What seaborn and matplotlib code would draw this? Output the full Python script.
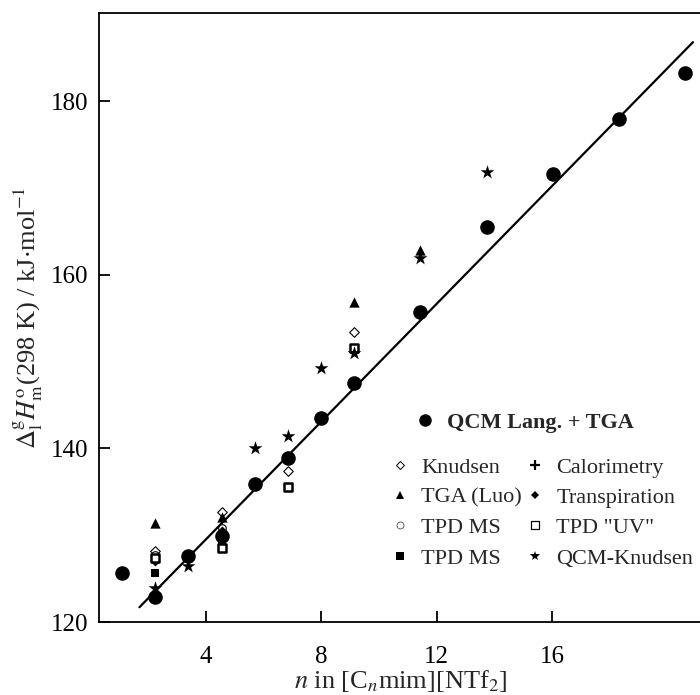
import numpy as np
import pandas as pd
import matplotlib
matplotlib.use("Agg")
import matplotlib.pyplot as plt
from matplotlib.lines import Line2D
import seaborn as sns

# ---- data (x) ----
qcm_x = [1.09, 2.23, 3.39, 4.55, 5.70, 6.84, 7.99, 9.13, 11.42, 13.75, 16.04, 18.34, 20.63]
qcm_y = [125.6, 122.9, 127.6, 129.9, 135.9, 138.9, 143.5, 147.5, 155.7, 165.5, 171.6, 178.0, 183.3]

knudsen_x = [2.23, 4.55, 6.84, 9.13]
knudsen_y = [128.2, 132.7, 137.4, 153.4]

tga_luo_x = [2.23, 4.55, 9.13, 11.42]
tga_luo_y = [131.4, 132.1, 156.9, 162.9]

tpd_ms_open_x = [2.23, 4.55]
tpd_ms_open_y = [127.7, 130.8]

tpd_ms_sq_x = [2.23, 4.55]
tpd_ms_sq_y = [125.6, 129.2]

transp_x = [2.23, 4.55]
transp_y = [127.0, 130.5]

tpd_uv_x = [2.23, 4.55, 6.84, 9.13]
tpd_uv_y = [127.4, 128.5, 135.5, 151.6]

qcm_kn_x = [2.23, 3.39, 5.70, 6.84, 7.99, 9.13, 11.42, 13.75]
qcm_kn_y = [123.9, 126.5, 140.0, 141.4, 149.3, 151.0, 161.9, 171.9]

fit_x = [1.69, 20.89]
fit_y = [121.7, 186.8]

x_ticks = [4, 8, 12, 16]
y_ticks = [120, 140, 160, 180]

sns.set_theme(style="ticks")
plt.rcParams['font.family'] = ['Liberation Serif', 'DejaVu Serif']
plt.rcParams['mathtext.fontset'] = 'stix'

fig = plt.figure(figsize=(7.0, 6.95), dpi=100)
ax = fig.add_axes([99/700, 1-622/695, (702-99)/700, (622-13)/695])

sns.lineplot(x=fit_x, y=fit_y, ax=ax, color='black', lw=1.6, sort=False)

def sc(x, y, marker, s, fc, ec='black', lw=0.0, **kw):
    sns.scatterplot(x=x, y=y, ax=ax, marker=marker, s=s, facecolor=fc,
                    edgecolor=ec, linewidth=lw, zorder=3, **kw)

sc(knudsen_x, knudsen_y, 'D', 24, 'white', lw=0.8)
sc(tga_luo_x, tga_luo_y, '^', 55, 'black')
sc(tpd_ms_open_x, tpd_ms_open_y, 'o', 30, 'white', lw=0.8)
sc(tpd_ms_sq_x, tpd_ms_sq_y, 's', 40, 'black')
sc(transp_x, transp_y, 'D', 26, 'black')
sc(tpd_uv_x, tpd_uv_y, 's', 30, 'white', lw=1.8)
sc(qcm_kn_x, qcm_kn_y, '*', 110, 'black')
sc(qcm_x, qcm_y, 'o', 110, 'black')

ax.set_xlim((99-90.7)/28.83, (702-90.7)/28.83)
ax.set_ylim(120, 120 + (622-13)/8.68)
ax.set_xticks(x_ticks)
ax.set_yticks(y_ticks)
ax.tick_params(direction='in', length=8, width=1.3, labelsize=18, colors='black')
ax.tick_params(axis='x', pad=17)
ax.tick_params(axis='y', pad=8)
for sp in ax.spines.values():
    sp.set_linewidth(1.3)
    sp.set_color('black')

ax.set_xlabel(r'$n$ in [C$_n$mim][NTf$_2$]', fontsize=19, labelpad=0)
ax.set_ylabel(r'$\Delta_{\rm l}^{\rm g}H^{\rm o}_{\rm m}$(298 K) / kJ$\cdot$mol$^{-1}$', fontsize=19, labelpad=4)

def h(marker, ms, fc, ec='black', mew=0.0):
    return Line2D([], [], linestyle='none', marker=marker, markersize=ms,
                  markerfacecolor=fc, markeredgecolor=ec, markeredgewidth=mew)

leg1 = fig.legend([h('o', 9, 'black')], ['QCM Lang. + TGA'],
                  loc='center left', bbox_to_anchor=(414/700, 1-423/695),
                  frameon=False, handlelength=1.0, handletextpad=0.5,
                  borderpad=0, borderaxespad=0,
                  prop={'family': 'Liberation Serif', 'weight': 'bold', 'size': 16})

handles = [h('D', 4.2, 'white', mew=0.7), h('^', 5.5, 'black'), h('o', 5, 'white', ec='0.3', mew=0.6),
           h('s', 5.5, 'black'),
           h('+', 7, 'black', mew=1.6), h('D', 4.2, 'black'), h('s', 5.5, 'white', mew=0.9),
           h('*', 7.5, 'black')]
labels = ['Knudsen', 'TGA (Luo)', 'TPD MS', 'TPD MS',
          'Calorimetry', 'Transpiration', 'TPD "UV"', 'QCM-Knudsen']
leg2 = fig.legend(handles, labels, ncol=2, loc='upper left',
                  bbox_to_anchor=(389/700, 1-457/695), frameon=False,
                  handlelength=1.0, handletextpad=0.45, columnspacing=0.1,
                  labelspacing=0.44, borderpad=0, borderaxespad=0,
                  prop={'family': 'Liberation Serif', 'size': 16})

fig.savefig('out.png', dpi=100)
